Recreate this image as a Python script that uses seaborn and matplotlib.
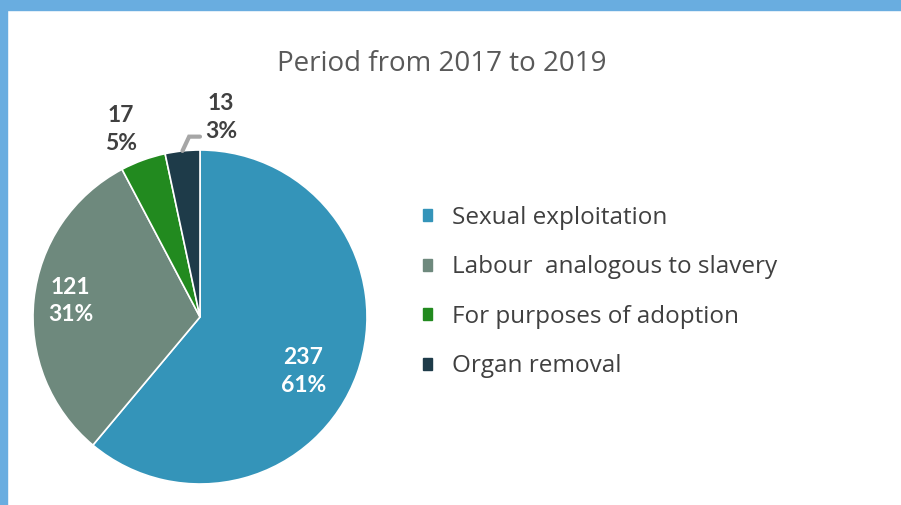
import numpy as np
import matplotlib
matplotlib.use("Agg")
import matplotlib.pyplot as plt
import matplotlib.patches as mpatches
import seaborn as sns

categories = ["Sexual exploitation", "Labour  analogous to slavery",
              "For purposes of adoption", "Organ removal"]
counts = [237, 121, 17, 13]
percents = ["61%", "31%", "5%", "3%"]
title = "Period from 2017 to 2019"

sns.set_theme(style="white")
palette = sns.color_palette(["#3494b9", "#6e897d", "#228a1f", "#1e3b49"])

W, H = 901, 505
fig = plt.figure(figsize=(W / 100, H / 100), dpi=100)
fig.patch.set_facecolor("white")

# blue frame of the slide
fig.patches.append(mpatches.Rectangle((0, 1 - 10 / H), 1, 10 / H, transform=fig.transFigure,
                                      color="#69ade0", zorder=0))
fig.patches.append(mpatches.Rectangle((0, 0), 7 / W, 1, transform=fig.transFigure,
                                      color="#69ade0", zorder=0))

cx, cy, r = 200, 317, 167
ax = fig.add_axes([(cx - r) / W, (H - cy - r) / H, 2 * r / W, 2 * r / H])

wedges, _ = ax.pie(counts, colors=palette, startangle=90, counterclock=False,
                   radius=1, wedgeprops=dict(edgecolor="white", linewidth=1.2))
ax.set_xlim(-1, 1)
ax.set_ylim(-1, 1)
ax.axis("off")

# label placement: (distance, angle shift, colour)
lab_style = [(0.70, -8, "white"), (0.78, -1, "white"),
             (1.22, 3, "#404040"), (1.20, -12, "#404040")]
for w, n, p, (d, shift, col) in zip(wedges, counts, percents, lab_style):
    mid = np.deg2rad((w.theta1 + w.theta2) / 2 + shift)
    ax.text(d * np.cos(mid), d * np.sin(mid), f"{n}\n{p}", ha="center", va="center",
            color=col, fontsize=16.5, fontweight="bold", family="Lato", linespacing=1.4)

# leader line for the smallest slice
w = wedges[-1]
mid = np.deg2rad((w.theta1 + w.theta2) / 2)
x0, y0 = np.cos(mid), np.sin(mid)
ax.plot([x0, x0 + 0.04, 0.0], [y0, 1.08, 1.08], color="#a6a6a6", lw=3,
        clip_on=False, solid_joinstyle="miter")

fig.text(442 / W, 1 - 64 / H, title, ha="center", va="center", fontsize=20,
         color="#595959", family="Open Sans")

handles = [mpatches.Patch(color=c) for c in palette]
leg = fig.legend(handles, categories, loc="upper left", bbox_to_anchor=(401 / W, 1 - 184 / H),
                 frameon=False, prop=dict(family="Open Sans", size=17.5),
                 handlelength=0.38, handleheight=0.38, handletextpad=0.8, labelspacing=1.05)
for t in leg.get_texts():
    t.set_color("#404040")

fig.savefig("out.png", dpi=100)
